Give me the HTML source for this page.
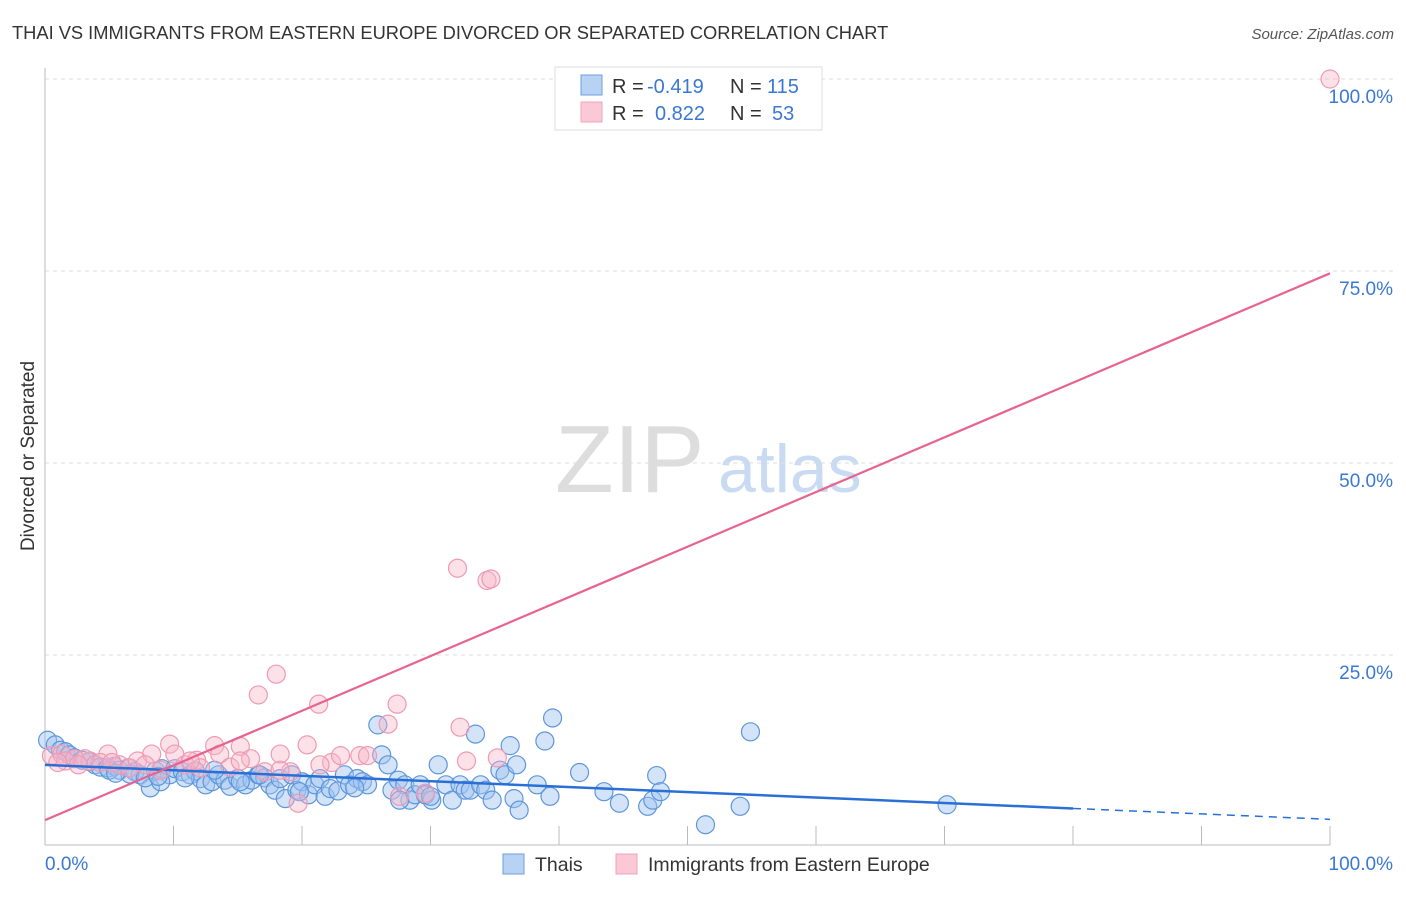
<!DOCTYPE html>
<html><head><meta charset="utf-8"><style>
body{margin:0;background:#fff;font-family:"Liberation Sans",sans-serif}
svg text{font-family:"Liberation Sans",sans-serif}
</style></head><body>
<svg id="c" width="1406" height="892">
<text x="12" y="39" font-size="18.3" fill="#333">THAI VS IMMIGRANTS FROM EASTERN EUROPE DIVORCED OR SEPARATED CORRELATION CHART</text>
<text x="1394" y="39" font-size="15" fill="#555" font-style="italic" text-anchor="end">Source: ZipAtlas.com</text>
<text x="34" y="456" font-size="19" fill="#333" text-anchor="middle" transform="rotate(-90 34 456)">Divorced or Separated</text>
<text x="555" y="492" font-size="96" fill="#ddd" font-family="Liberation Serif">ZIP</text>
<text x="718" y="492" font-size="68" fill="#c9dbf2">atlas</text>
<g id="grid"></g><g id="pts"></g><g id="lines"></g>
<g>
<rect x="555" y="67" width="267" height="63" fill="#fff" stroke="#ddd"/>
<rect x="581" y="75" width="21" height="20" fill="#b8d2f4" stroke="#6e9fe0"/>
<rect x="581" y="102" width="21" height="20" fill="#fac8d6" stroke="#f0a3ba"/>
<text x="612" y="93" font-size="20" fill="#333">R = <tspan x="647" fill="#3a78d4">-0.419</tspan><tspan x="730">N = </tspan><tspan x="767" fill="#3a78d4">115</tspan></text>
<text x="612" y="120" font-size="20" fill="#333">R = <tspan x="655" fill="#3a78d4">0.822</tspan><tspan x="730">N = </tspan><tspan x="772" fill="#3a78d4">53</tspan></text>
</g>
<g>
<rect x="503" y="854" width="21" height="20" fill="#b8d2f4" stroke="#6e9fe0"/>
<text x="535" y="871" font-size="19.5" fill="#333">Thais</text>
<rect x="616" y="854" width="21" height="20" fill="#fac8d6" stroke="#f0a3ba"/>
<text x="648" y="871" font-size="19.5" fill="#333">Immigrants from Eastern Europe</text>
</g>
</svg>
<script>
const yTicks=[25,50,75,100];
const yTickLabels=["25.0%","50.0%","75.0%","100.0%"];
const xTickVals=[0,10,20,30,40,50,60,70,80,90,100];
const blueX=[0.2,0.8,1.2,1.6,1.9,2.3,2.9,3.5,3.9,4.3,4.9,5.4,5.8,6.5,7,7.4,8.2,8.6,9.1,9.7,10.1,10.7,11.3,11.7,12.1,12.5,13,13.5,14,14.4,15,15.6,16.1,16.6,17.1,17.5,17.9,18.3,18.7,19.2,19.6,20,20.5,21,21.4,21.8,22.2,22.8,23.3,23.7,24.3,24.7,25.1,25.9,26.2,26.7,27,27.5,28,28.4,28.8,29.2,29.6,30.1,30.6,31.2,31.7,32.3,32.7,33.1,33.5,33.9,34.3,34.8,35.4,35.8,36.2,36.5,36.7,36.9,38.3,38.9,39.3,39.5,41.6,43.5,44.7,46.9,47.3,47.6,47.9,51.4,54.1,54.9,70.2,5,6.6,7.8,9,10.9,13.2,15.2,16.7,19.8,24.1,27.6,30,5.5,8.8];
const blueY=[13.9,13.3,12.6,12.4,12,11.6,11.3,11.1,10.7,10.4,10.3,10.5,10,10.3,9.8,9.4,7.7,9.9,10.2,9.4,10.2,9.8,9.4,9.9,8.9,8.1,8.5,9.4,8.7,7.9,8.9,8.1,8.7,9.4,9,8.1,7.4,8.9,6.3,9.4,7.4,8.5,6.8,8.1,8.9,6.6,7.6,7.3,9.4,8.1,8.9,8.5,8.1,15.9,12,10.7,7.4,8.7,8.1,6.1,6.8,8.1,6.8,6.1,10.7,8.1,6.1,8.1,7.4,7.4,14.7,8.1,7.4,6.1,10.0,9.4,13.2,6.3,10.7,4.8,8.1,13.8,6.6,16.8,9.7,7.2,5.7,5.3,6.1,9.3,7.2,2.9,5.3,15,5.5,10,9.5,9.0,8.5,9,10,8.5,9.4,7.2,7.7,6.1,6.6,9.6,9.2];
const pinkX=[100,32.1,34.4,34.7,18,16.6,21.3,27.4,26.7,32.3,20.4,9.7,13.2,15.2,4.9,8.3,10.1,11.8,13.6,16,18.3,22.3,24.5,25.1,23,32.8,35.2,0.5,1.3,2.3,3.5,4.3,5.8,6.6,7.2,7.8,9,10.9,12.1,14.4,17.1,19.1,19.7,21.4,27.6,29.6,18.3,1.6,3.1,5.2,11.3,15.2,1,2.6];
const pinkY=[100,36.3,34.7,34.9,22.5,19.8,18.6,18.6,16,15.6,13.3,13.4,13.2,13.1,12.1,12.1,12.1,11.3,12.1,11.5,12.1,11,11.9,11.9,11.9,11.2,11.6,11.9,12.1,11.5,11.2,11,10.7,10.3,11.2,10.7,10,10.7,10.3,10.4,9.8,9.8,5.7,10.7,6.6,7,10,11.2,11.5,11,11.2,11.2,11,10.7];
const blueTrend=[10.7,3.6];
const pinkTrend=[3.5,74.7];
const X=v=>45+v*12.85, Y=v=>847-v*7.68;
const NS="http://www.w3.org/2000/svg";
function mk(t,a,p){const e=document.createElementNS(NS,t);for(const k in a)e.setAttribute(k,a[k]);p.appendChild(e);return e;}
const grid=document.getElementById('grid');
yTicks.forEach((v,i)=>{
 const l=mk('line',{x1:45,x2:1394,y1:Y(v),y2:Y(v),stroke:'#ddd','stroke-dasharray':'4,4'},grid);
 
 
 const t=mk('text',{x:1393,y:Y(v)+24,'font-size':19,fill:'#3a78d4','text-anchor':'end'},grid);t.textContent=yTickLabels[i];
 
 
});
mk('line',{x1:45,x2:45,y1:68,y2:845,stroke:'#bbb'},grid);
mk('line',{x1:45,x2:1330,y1:845,y2:845,stroke:'#bbb'},grid);
xTickVals.forEach(v=>{const l=mk('line',{x1:X(v),x2:X(v),y1:826,y2:845,stroke:'#bbb'},grid);
 
 });
let t=mk('text',{x:45,y:870,'font-size':19,fill:'#3a78d4'},grid);t.textContent='0.0%';


t=mk('text',{x:1393,y:870,'font-size':19,fill:'#3a78d4','text-anchor':'end'},grid);t.textContent='100.0%';


const pts=document.getElementById('pts');
blueX.forEach((x,i)=>{const c=mk('circle',{cx:X(x),cy:Y(blueY[i]),r:9,fill:'rgba(160,195,240,0.45)',stroke:'#5e96dc','stroke-width':1.2},pts);
 
 });
pinkX.forEach((x,i)=>{const c=mk('circle',{cx:X(x),cy:Y(pinkY[i]),r:9,fill:'rgba(247,180,200,0.4)',stroke:'#ee9ab3','stroke-width':1.2},pts);
 
 });
const ln=document.getElementById('lines');
const by=x=>blueTrend[0]+(blueTrend[1]-blueTrend[0])*x/100;
let l=mk('line',{x1:X(0),y1:Y(by(0)),x2:X(80),y2:Y(by(80)),stroke:'#2a6fd6','stroke-width':2.5},ln);


l=mk('line',{x1:X(80),y1:Y(by(80)),x2:X(100),y2:Y(by(100)),stroke:'#2a6fd6','stroke-width':1.5,'stroke-dasharray':'8,6'},ln);


l=mk('line',{x1:X(0),y1:Y(pinkTrend[0]),x2:X(100),y2:Y(pinkTrend[1]),stroke:'#e8638f','stroke-width':2.2},ln);


</script>
</body></html>
